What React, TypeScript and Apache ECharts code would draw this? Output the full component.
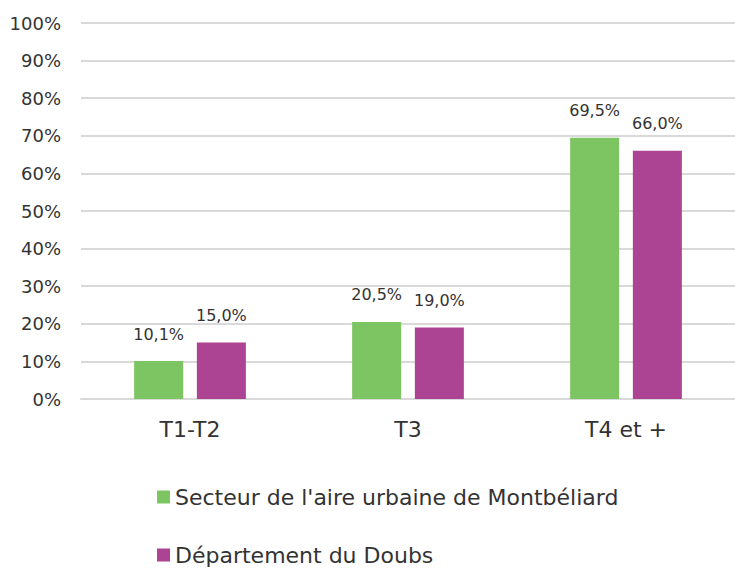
import React, { useEffect, useRef } from "react";
import * as echarts from "echarts";

const categories = ["T1-T2", "T3", "T4 et +"];
const seriesNames = ["Secteur de l'aire urbaine de Montbéliard", "Département du Doubs"];
const secteurValues = [10.1, 20.5, 69.5];
const doubsValues = [15.0, 19.0, 66.0];
const colors = ["#7dc462", "#ad4393"];

const FONT = "'DejaVu Sans', sans-serif";
const TEXT = "#333333";

export default function App() {
  const ref = useRef<HTMLDivElement>(null);
  useEffect(() => {
    if (!ref.current) return;
    const chart = echarts.init(ref.current, null, { renderer: "svg" });
    const fmt = (p: any) => Number(p.value).toFixed(1).replace(".", ",") + "%";
    const legendBase = {
      orient: "vertical",
      left: 157,
      padding: 0,
      itemWidth: 13,
      itemHeight: 13,
      icon: "rect",
      textStyle: { fontFamily: FONT, fontSize: 22, color: TEXT, lineHeight: 22 },
    };
    const labelStyle = {
      show: true,
      position: "top",
      distance: 19,
      fontFamily: FONT,
      fontSize: 16,
      color: TEXT,
      formatter: fmt,
    };
    chart.setOption({
      animation: false,
      textStyle: { fontFamily: FONT, color: TEXT },
      grid: { left: 81, right: 0, top: 23, bottom: 169 },
      legend: [
        { ...legendBase, top: 486, data: [seriesNames[0]] },
        { ...legendBase, top: 544, data: [seriesNames[1]] },
      ],
      xAxis: {
        type: "category",
        data: categories,
        axisTick: { show: false },
        axisLine: { lineStyle: { color: "#d9d9d9", width: 2 } },
        axisLabel: { fontFamily: FONT, fontSize: 22, color: TEXT, margin: 19 },
      },
      yAxis: {
        type: "value",
        min: 0,
        max: 100,
        interval: 10,
        axisLine: { show: false },
        axisTick: { show: false },
        splitLine: { lineStyle: { color: "#d9d9d9", width: 2 } },
        axisLabel: {
          fontFamily: FONT,
          fontSize: 18,
          color: TEXT,
          margin: 20,
          formatter: (v: number) => v + "%",
        },
      },
      series: [
        {
          name: seriesNames[0],
          type: "bar",
          data: secteurValues,
          barWidth: 49,
          barGap: "28%",
          itemStyle: { color: colors[0] },
          label: labelStyle,
        },
        {
          name: seriesNames[1],
          type: "bar",
          data: doubsValues,
          barWidth: 49,
          barGap: "28%",
          itemStyle: { color: colors[1] },
          label: labelStyle,
        },
      ],
    });
    return () => chart.dispose();
  }, []);
  return (
    <div
      ref={ref}
      style={{ position: "absolute", left: 0, top: 0, width: 735, height: 568, background: "#fff" }}
    />
  );
}
